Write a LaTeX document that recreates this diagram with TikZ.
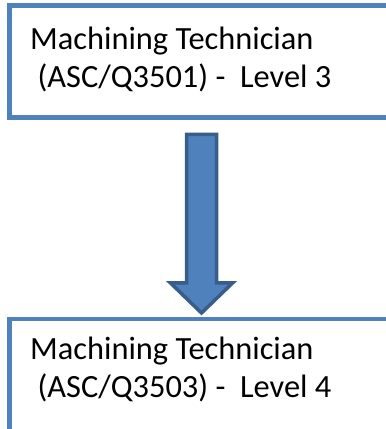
\documentclass[tikz,border=0pt]{standalone}
\usepackage{fontspec}
\setmainfont{Carlito}
\usetikzlibrary{positioning}
\definecolor{boxblue}{HTML}{4F81BD}
\definecolor{arrowedge}{HTML}{385D8A}
\tikzset{
  levelbox/.style={draw=boxblue, line width=4.5pt, rectangle, outer sep=0pt,
    minimum width=384pt, minimum height=112pt, inner sep=0pt},
  leveltext/.style={inner sep=0pt, align=left, font=\fontsize{32.4}{38}\selectfont}
}
\begin{document}
\begin{tikzpicture}[x=1pt,y=1pt]
\useasboundingbox (0,0) rectangle (386,429);
\clip (0,0) rectangle (386,429);

\node[levelbox] (l3box) at (201.5,367.5) {};
\node[levelbox] (l4box) at (201.5,54) {};

\node[leveltext, anchor=base west] (l3) at (30,341)
  {Machining Technician\\\hspace*{0.23em}(ASC/Q3501) -\ \ Level 3};
\node[leveltext, anchor=base west] (l4) at (30,31)
  {Machining Technician\\\hspace*{0.23em}(ASC/Q3503) -\ \ Level 4};

% block arrow between the two levels
\coordinate (top) at ([yshift=-17pt]l3box.south);
\coordinate (tip) at ([yshift=6pt]l4box.north);
\draw[fill=boxblue, draw=arrowedge, line width=3.5pt]
  ([xshift=-15pt]top) -- ([xshift=15pt]top) -- ([xshift=15pt,yshift=30pt]tip)
  -- ([xshift=31pt,yshift=30pt]tip) -- (tip) -- ([xshift=-31pt,yshift=30pt]tip)
  -- ([xshift=-15pt,yshift=30pt]tip) -- cycle;

\end{tikzpicture}
\end{document}
